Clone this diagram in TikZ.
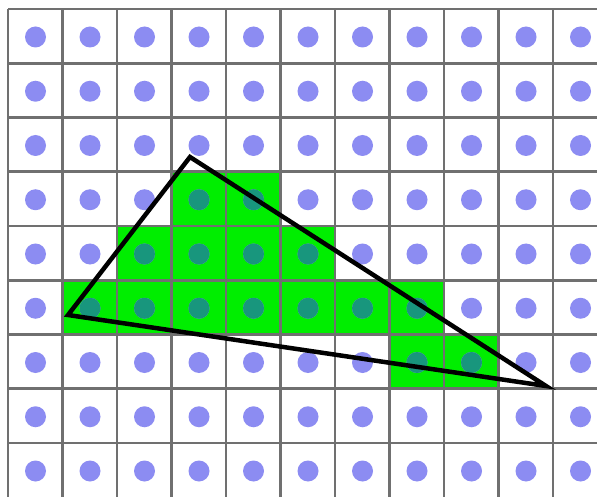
\documentclass[tikz,border=0pt]{standalone}
\definecolor{cellgreen}{RGB}{0,238,0}
\definecolor{gridgray}{RGB}{112,112,112}
\definecolor{dotblue}{RGB}{140,140,242}
\definecolor{dotteal}{RGB}{24,150,125}
\tikzset{
  gridline/.style={draw=gridgray, line width=2.6pt},
  greencell/.style={fill=cellgreen},
  dot/.style={fill=dotblue},
  dotin/.style={fill=dotteal},
  tri/.style={draw=black, line width=4.5pt, line join=miter}
}
\def\greencells{3/3,4/3,2/4,3/4,4/4,5/4,1/5,2/5,3/5,4/5,5/5,6/5,7/5,7/6,8/6}
\begin{document}
\begin{tikzpicture}[x=1pt,y=-1pt]
\useasboundingbox (0,0) rectangle (597,497);
\fill[white] (0,0) rectangle (597,497);
\begin{scope}
\clip (0,0) rectangle (597,497);
\foreach \c/\r in \greencells
  \fill[greencell] ({8+54.5*\c},{9+54.25*\r}) rectangle ++(54.5,54.25);
\foreach \i in {0,...,11}
  \draw[gridline] ({8+54.5*\i},9) -- ({8+54.5*\i},505);
\foreach \j in {0,...,8}
  \draw[gridline] (8,{9+54.25*\j}) -- (605,{9+54.25*\j});
\foreach \c in {0,...,10}
  \foreach \r in {0,...,8}
    \fill[dot] ({35.5+54.5*\c},{37+54.25*\r}) circle (10.5);
\foreach \c/\r in \greencells
  \fill[dotin] ({35.5+54.5*\c},{37+54.25*\r}) circle (10.5);
\end{scope}
\coordinate (A) at (190,157);
\coordinate (B) at (68,315);
\coordinate (C) at (546,386);
\draw[tri] (A) -- (B) -- (C) -- cycle;
\end{tikzpicture}
\end{document}
